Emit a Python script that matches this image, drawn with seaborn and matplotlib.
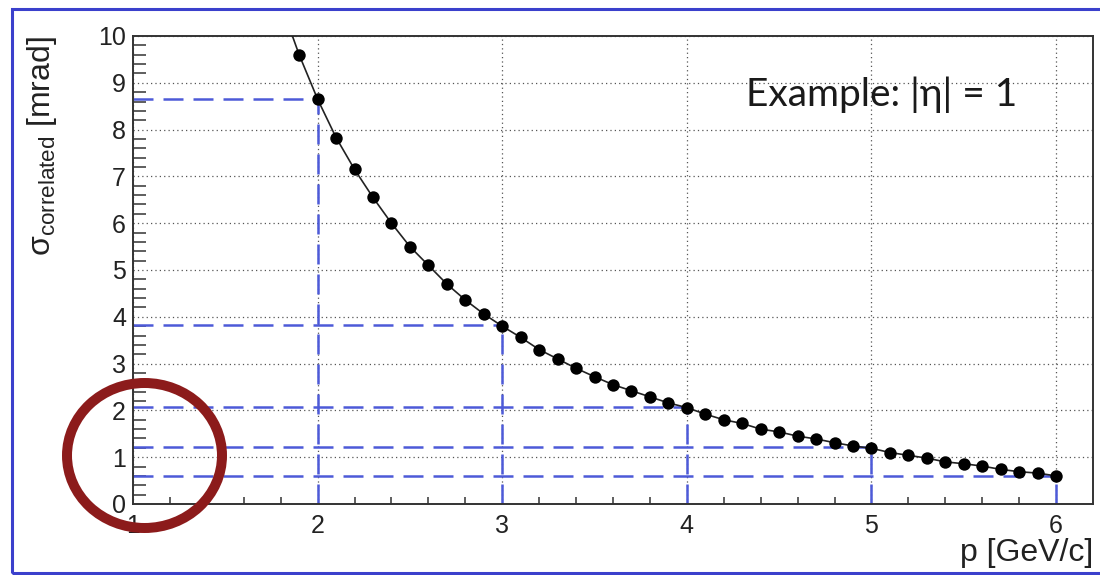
import seaborn as sns
import matplotlib.pyplot as plt
import pandas as pd
from matplotlib.patches import Rectangle, Ellipse

# momentum points (GeV/c) and sigma_correlated (mrad)
p_vals = [1.9, 2.0, 2.1, 2.2, 2.3, 2.4, 2.5, 2.6, 2.7, 2.8, 2.9,
          3.0, 3.1, 3.2, 3.3, 3.4, 3.5, 3.6, 3.7, 3.8, 3.9,
          4.0, 4.1, 4.2, 4.3, 4.4, 4.5, 4.6, 4.7, 4.8, 4.9,
          5.0, 5.1, 5.2, 5.3, 5.4, 5.5, 5.6, 5.7, 5.8, 5.9, 6.0]
sigma_vals = [9.6, 8.65, 7.83, 7.15, 6.55, 6.0, 5.5, 5.1, 4.7, 4.36, 4.06,
              3.8, 3.56, 3.3, 3.1, 2.9, 2.72, 2.55, 2.42, 2.29, 2.16,
              2.06, 1.92, 1.8, 1.72, 1.6, 1.54, 1.45, 1.39, 1.31, 1.24,
              1.19, 1.1, 1.04, 0.98, 0.9, 0.86, 0.81, 0.74, 0.69, 0.66, 0.6]

# the curve goes on above the top of the frame
curve_start_p = 1.8
curve_start_sigma = 10.7

# blue guide lines
ref_p = [2, 3, 4, 5, 6]
ref_sigma = [8.65, 3.82, 2.08, 1.22, 0.6]

x_ticks = [1, 2, 3, 4, 5, 6]
y_ticks = [0, 1, 2, 3, 4, 5, 6, 7, 8, 9, 10]

df = pd.DataFrame({'p': p_vals, 'sigma': sigma_vals})
curve = pd.DataFrame({'p': [curve_start_p] + p_vals,
                      'sigma': [curve_start_sigma] + sigma_vals})

sns.set_theme(style='white')
plt.rcParams['font.family'] = ['Liberation Sans', 'DejaVu Sans']
plt.rcParams['mathtext.fontset'] = 'custom'
plt.rcParams['mathtext.rm'] = 'Liberation Sans'
plt.rcParams['mathtext.it'] = 'Liberation Sans:italic'

fig = plt.figure(figsize=(11, 5.75), dpi=100)
ax = fig.add_axes([0.1209, 0.1235, 0.8727, 0.8139])

blue = '#4d5ad8'
ax.hlines(ref_sigma, 1, ref_p, colors=blue, linestyles=(0, (8, 4)), lw=1.8, zorder=2)
ax.vlines(ref_p, 0, ref_sigma, colors=blue, linestyles=(0, (8, 4)), lw=1.8, zorder=2)

sns.lineplot(data=curve, x='p', y='sigma', sort=False, estimator=None,
             color='#222222', lw=1.2, ax=ax, zorder=3)
sns.scatterplot(data=df, x='p', y='sigma', color='black', s=80,
                edgecolor='black', linewidth=0, ax=ax, zorder=4)

ax.set_xlim(1, 6.2)
ax.set_ylim(0, 10)
ax.set_xticks(x_ticks)
ax.set_yticks(y_ticks)
ax.set_xticks([t / 10 for t in range(10, 62, 2)], minor=True)
ax.set_yticks([t / 10 for t in range(0, 101, 2)], minor=True)
ax.grid(True, which='major', color='#555555', linestyle=(0, (1, 2.5)), lw=0.9)
ax.tick_params(axis='both', which='both', direction='in', top=False, right=False,
               labelsize=18, labelcolor='#222222', color='#333333')
ax.tick_params(axis='y', which='major', length=19, width=1.3, pad=5)
ax.tick_params(axis='y', which='minor', length=9, width=1.1, left=True)
ax.tick_params(axis='x', which='major', length=8, width=1.3, pad=7)
ax.tick_params(axis='x', which='minor', length=5, width=1.1, bottom=True)
for s in ax.spines.values():
    s.set_color('#333333')
    s.set_linewidth(1.4)

ax.set_xlabel('p [GeV/c]', fontsize=23, loc='right', color='#222222', labelpad=0)
ax.set_ylabel(r'$\mathregular{σ_{correlated}}$ [mrad]', fontsize=23, loc='top',
              color='#222222', labelpad=28)

ax.text(0.78, 0.874, 'Example: |η| = 1', transform=ax.transAxes, ha='center',
        va='center', fontsize=28, color='#1a1a1a', family=['Lato', 'DejaVu Sans'])

# slide border and the red highlight ring
fig.add_artist(Rectangle((0.0105, 0.0035), 1.05, 0.98, transform=fig.transFigure,
                         fill=False, ec='#3b40cc', lw=2.2))
fig.add_artist(Ellipse((144.5 / 1100, 1 - 455.5 / 575), 155 / 1100, 145 / 575,
                       transform=fig.transFigure, fill=False, ec='#8c1b1b', lw=7.2,
                       zorder=10))

plt.savefig('out.png', dpi=100)
plt.close()
